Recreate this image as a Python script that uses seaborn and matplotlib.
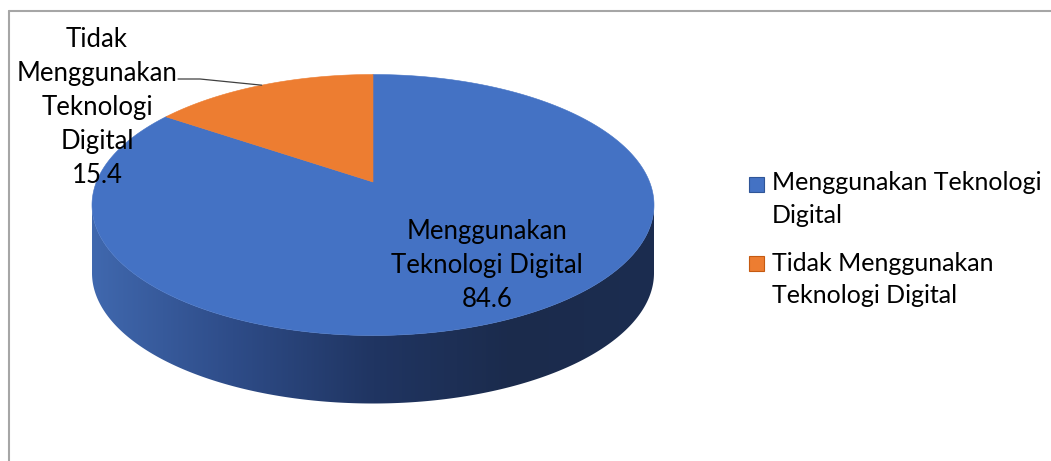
import numpy as np
import matplotlib.pyplot as plt
import seaborn as sns
from matplotlib.colors import LinearSegmentedColormap
from matplotlib.patches import Polygon, Rectangle
from matplotlib.lines import Line2D

# data
categories = ['Menggunakan Teknologi Digital', 'Tidak Menggunakan Teknologi Digital']
values = [84.6, 15.4]
slice_labels = ['Menggunakan\nTeknologi Digital', 'Tidak\nMenggunakan\nTeknologi\nDigital']
legend_labels = ['Menggunakan Teknologi\nDigital', 'Tidak Menggunakan\nTeknologi Digital']
colors = sns.color_palette(['#4472C4', '#ED7D31'])

sns.set_theme(style='white')
plt.rcParams['font.family'] = ['Lato', 'DejaVu Sans']

W, H = 1051, 461
fig = plt.figure(figsize=(W / 100, H / 100), dpi=100)

# ellipse of the top face, in pixels of the picture
cx, cy, rx, ry, depth = 373, 205, 281, 130.5, 68
x0, x1, y0, y1 = -1.05, 1.05, -1.7, 1.05
ax = fig.add_axes([(cx + x0 * rx) / W, (H - (cy - y0 * ry)) / H,
                   (x1 - x0) * rx / W, (y1 - y0) * ry / H])

# perspective: pie centre appears above the centre of the ellipse
m = (205 - 182) / ry


def persp(x, y):
    w = 1 + m * y
    return np.sqrt(1 - m ** 2) * x / w, (y + m) / w


def to_data(px, py):
    return (px - cx) / rx, (cy - py) / ry


wedges, _ = ax.pie(values, colors=colors, startangle=90, counterclock=False,
                   wedgeprops={'linewidth': 0})

# redraw the top face through the perspective projection
for w, c in zip(wedges, colors):
    w.set_visible(False)
    t = np.radians(np.linspace(w.theta1, w.theta2, 600))
    xs = np.concatenate([[w.center[0]], w.center[0] + w.r * np.cos(t)])
    ys = np.concatenate([[w.center[1]], w.center[1] + w.r * np.sin(t)])
    px, py = persp(xs, ys)
    ax.add_patch(Polygon(np.column_stack([px, py]), closed=True,
                         facecolor=c, edgecolor=c, lw=0.4, zorder=3))

# side of the "3d" pie, only the front half is visible
d = depth / ry
side_cmap = LinearSegmentedColormap.from_list(
    'side', ['#4068ae', '#2e4c88', '#203562', '#1b2b4c', '#1c2d50'])
grad = np.linspace(0, 1, 256)[None, :]
for w in wedges:
    t = np.radians(np.linspace(w.theta1, w.theta2, 800))
    X, Y = persp(w.r * np.cos(t), w.r * np.sin(t))
    keep = Y <= 0
    if keep.sum() < 2:
        continue
    X, Y = X[keep], Y[keep]
    xs = np.concatenate([X, X[::-1]])
    ys = np.concatenate([Y, Y[::-1] - d])
    side = Polygon(np.column_stack([xs, ys]), closed=True,
                   facecolor='none', edgecolor='none')
    ax.add_patch(side)
    im = ax.imshow(grad, extent=(-1, 1, -1 - d, 0), cmap=side_cmap,
                   aspect='auto', zorder=2)
    im.set_clip_path(side)

ax.set_aspect('auto')
ax.set_xlim(x0, x1)
ax.set_ylim(y0, y1)
ax.axis('off')

# labels
ax.text(*to_data(487, 265), f'{slice_labels[0]}\n{values[0]}', ha='center', va='center',
        fontsize=18.5, linespacing=1.45, color='black', zorder=5)
ax.text(*to_data(97, 107), f'{slice_labels[1]}\n{values[1]}', ha='center', va='center',
        fontsize=18.5, linespacing=1.45, color='black', zorder=5)

# leader line to the small slice
w = wedges[1]
mid = np.radians((w.theta1 + w.theta2) / 2)
ex, ey = persp(np.cos(mid), np.sin(mid))
lx0, ly0 = to_data(178, 79)
lx1, ly1 = to_data(200, 79)
ax.plot([lx0, lx1, ex], [ly0, ly1, ey], color='#404040',
        lw=0.9, clip_on=False, zorder=6)

# legend
edge = ['#2f5597', '#c55a11']
for i, lab in enumerate(legend_labels):
    top = [177, 256][i]
    mid_y = [199, 279.5][i]
    fig.add_artist(Rectangle((749 / W, 1 - (top + 15) / H), 15 / W, 15 / H,
                             transform=fig.transFigure, facecolor=colors[i],
                             edgecolor=edge[i], lw=0.8))
    fig.text(772 / W, 1 - mid_y / H, lab, ha='left', va='center',
             fontsize=18, linespacing=1.5, color='black')

# chart area border
fig.add_artist(Line2D([9 / W, 1], [1 - 11 / H] * 2, transform=fig.transFigure,
                      color='#a6a6a6', lw=1.5))
fig.add_artist(Line2D([9 / W] * 2, [0, 1 - 11 / H], transform=fig.transFigure,
                      color='#a6a6a6', lw=1.5))

fig.savefig('out.png', dpi=100)
